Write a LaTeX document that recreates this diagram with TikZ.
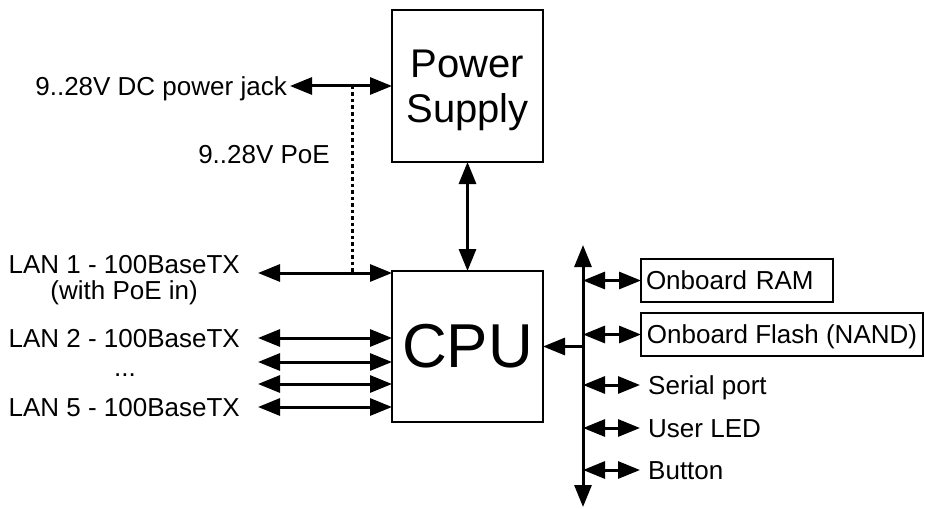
\documentclass[tikz,border=0pt]{standalone}
\usepackage{fontspec}
\setmainfont{Liberation Sans}
\usetikzlibrary{arrows.meta}
\begin{document}
\begin{tikzpicture}[x=1pt,y=-1pt,
  tip/.tip={Triangle[length=22pt,width=17pt]},
  arr/.style={line width=3pt,tip-tip},
  arrto/.style={line width=3pt,-tip},
  dotline/.style={line width=3pt,dash pattern=on 3.5pt off 3pt},
  box/.style={draw,line width=2.5pt,outer sep=0pt,inner sep=0pt},
  smallbox/.style={draw,line width=2pt,outer sep=0pt,inner xsep=5pt,inner ysep=0pt,
    minimum height=43pt,text height=18.6pt,text depth=0pt,anchor=west},
  lbl/.style={inner sep=0pt,text height=18.6pt,text depth=0pt},
  every node/.append style={font=\fontsize{26}{26}\selectfont}]
\useasboundingbox (0,0) rectangle (925,508);

% main boxes
\node[box,minimum width=151pt,minimum height=152pt,align=center,
      font=\fontsize{40}{45}\selectfont,text depth=0pt] (ps) at (467.5,86) {Power\\Supply};
\node[box,minimum width=151pt,minimum height=151pt,
      font=\fontsize{62}{62}\selectfont] (cpu) at (467.5,346.5) {CPU};

% power supply inputs
\node[lbl,anchor=east,inner xsep=3pt] (jack) at (290,86) {9..28V DC power jack};
\node[lbl,anchor=east] (poe) at (330,154) {9..28V PoE};
\draw[arr] (jack.east) -- (ps.west);
\draw[arr] (ps.south) -- (cpu.north);

% LAN ports
\node[inner sep=0pt,align=center,text depth=0pt,anchor=south east] (lan1) at (240,300)
  {LAN 1 - 100BaseTX\\(with PoE in)};
\coordinate (l1) at (258,273);
\node[lbl,anchor=east,inner xsep=18pt] (lan2) at (258,338) {LAN 2 - 100BaseTX};
\coordinate (l3) at (258,362);
\node[inner sep=0pt,anchor=base] (dots) at (125,376.5) {...};
\coordinate (l4) at (258,384);
\node[lbl,anchor=east,inner xsep=18pt] (lan5) at (258,407) {LAN 5 - 100BaseTX};
\draw[arr] (l1) -- (l1 -| cpu.west);
\draw[arr] (lan2.east) -- (lan2.east -| cpu.west);
\draw[arr] (l3) -- (l3 -| cpu.west);
\draw[arr] (l4) -- (l4 -| cpu.west);
\draw[arr] (lan5.east) -- (lan5.east -| cpu.west);

% PoE dotted link
\coordinate (dj) at (352,86);
\coordinate (dl) at (352,273);
\draw[dotline] (dj) -- (dl);

% bus
\coordinate (bt) at (583,245);
\coordinate (bb) at (583,507);
\draw[arr] (bt) -- (bb);
\draw[arrto] (cpu.east -| bt) -- (cpu.east);

% peripherals
\node[smallbox,text width=182pt,align=left] (ram) at (641,280.5) {Onboard RAM};
\node[smallbox,minimum width=282pt] (flash) at (641,334.5) {Onboard Flash (NAND)};
\node[lbl,anchor=west,inner xsep=8pt] (serial) at (640,385) {Serial port};
\node[lbl,anchor=west,inner xsep=8pt] (led) at (640,428) {User LED};
\node[lbl,anchor=west,inner xsep=8pt] (button) at (640,470) {Button};
\draw[arr] (ram.west -| bt) -- (ram.west);
\draw[arr] (flash.west -| bt) -- (flash.west);
\draw[arr] (serial.west -| bt) -- (serial.west);
\draw[arr] (led.west -| bt) -- (led.west);
\draw[arr] (button.west -| bt) -- (button.west);
\end{tikzpicture}
\end{document}
